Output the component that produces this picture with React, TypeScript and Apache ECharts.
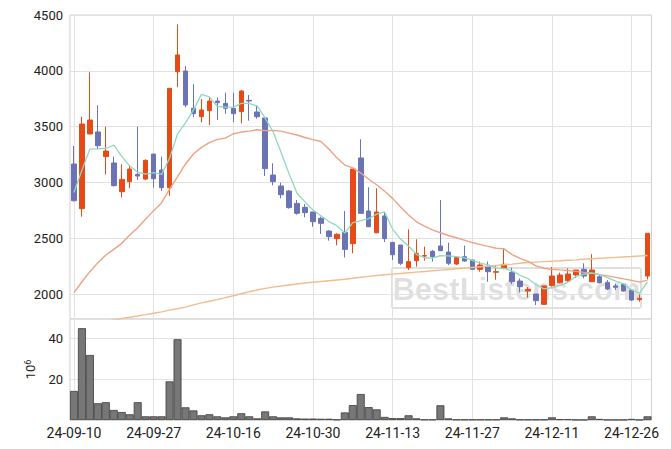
import React, { useEffect, useRef } from 'react';
import * as echarts from 'echarts';

const dates = [
  '24-09-10', '24-09-11', '24-09-12', '24-09-13', '24-09-19', '24-09-20', '24-09-23', '24-09-24', '24-09-25', '24-09-26',
  '24-09-27', '24-09-30', '24-10-02', '24-10-04', '24-10-07', '24-10-08', '24-10-10', '24-10-11', '24-10-14', '24-10-15',
  '24-10-16', '24-10-17', '24-10-18', '24-10-21', '24-10-22', '24-10-23', '24-10-24', '24-10-25', '24-10-28', '24-10-29',
  '24-10-30', '24-10-31', '24-11-01', '24-11-04', '24-11-05', '24-11-06', '24-11-07', '24-11-08', '24-11-11', '24-11-12',
  '24-11-13', '24-11-14', '24-11-15', '24-11-18', '24-11-19', '24-11-20', '24-11-21', '24-11-22', '24-11-25', '24-11-26',
  '24-11-27', '24-11-28', '24-11-29', '24-12-02', '24-12-03', '24-12-04', '24-12-05', '24-12-06', '24-12-09', '24-12-10',
  '24-12-11', '24-12-12', '24-12-13', '24-12-16', '24-12-17', '24-12-18', '24-12-19', '24-12-20', '24-12-23', '24-12-24',
  '24-12-26', '24-12-27', '24-12-30',
];

const opens = [
  3165, 2765, 3434, 3452, 3231, 3174, 2917, 3007, 3072, 3030,
  3254, 3111, 2953, 3992, 3998, 3664, 3589, 3643, 3729, 3708,
  3664, 3634, 3735, 3631, 3577, 3066, 2968, 2923, 2812, 2777,
  2735, 2678, 2564, 2496, 2552, 2451, 3219, 2744, 2549, 2699,
  2463, 2439, 2236, 2299, 2340, 2382, 2430, 2376, 2269, 2334,
  2305, 2221, 2245, 2195, 2230, 2194, 2116, 2027, 2000, 1907,
  2075, 2101, 2119, 2170, 2221, 2110, 2155, 2104, 2072, 2086,
  2036, 1950, 2161,
];

const closes = [
  2836, 3523, 3559, 3329, 3281, 2971, 3027, 3120, 3057, 3198,
  3033, 2953, 3843, 4142, 3694, 3616, 3649, 3729, 3714, 3664,
  3616, 3819, 3729, 3589, 3123, 3007, 2890, 2774, 2723, 2729,
  2648, 2633, 2514, 2535, 2400, 3120, 2723, 2603, 2735, 2496,
  2352, 2275, 2290, 2364, 2344, 2334, 2388, 2275, 2328, 2296,
  2221, 2260, 2200, 2200, 2266, 2110, 2066, 2042, 1940, 2072,
  2161, 2170, 2179, 2215, 2161, 2215, 2101, 2045, 2060, 2027,
  1946, 1961, 2544,
];

const lows = [
  2830, 2693, 3430, 3299, 3072, 2962, 2866, 2947, 3021, 3021,
  2953, 2923, 2881, 3852, 3673, 3583, 3538, 3514, 3559, 3616,
  3541, 3529, 3553, 3571, 3057, 2974, 2857, 2765, 2711, 2687,
  2603, 2538, 2478, 2436, 2328, 2364, 2723, 2600, 2544, 2466,
  2305, 2260, 2215, 2245, 2299, 2290, 2385, 2260, 2260, 2287,
  2215, 2200, 2110, 2128, 2221, 2089, 2015, 1967, 1901, 1907,
  2066, 2095, 2110, 2146, 2140, 2110, 2095, 2036, 2036, 2021,
  1937, 1931, 2131,
];

const highs = [
  3326, 3589, 3986, 3691, 3499, 3231, 3162, 3156, 3499, 3205,
  3254, 3231, 3843, 4416, 4043, 3879, 3747, 3765, 3759, 3804,
  3804, 3828, 3783, 3685, 3590, 3171, 2998, 2932, 2842, 2806,
  2735, 2693, 2573, 2544, 2744, 3120, 3386, 2956, 2947, 2735,
  2463, 2439, 2579, 2490, 2424, 2394, 2842, 2460, 2340, 2433,
  2305, 2290, 2290, 2255, 2409, 2236, 2140, 2062, 2000, 2072,
  2242, 2191, 2230, 2215, 2275, 2357, 2170, 2125, 2092, 2095,
  2042, 1997, 2544,
];

// volume, in units of 10^6
const volumes = [
  14.2, 44.9, 31.8, 8.2, 8.7, 4.9, 3.9, 2.8, 8.7, 1.8,
  1.8, 1.8, 18.9, 39.5, 6.2, 4.7, 2.3, 2.8, 1.8, 1.3,
  1.8, 3.3, 1.8, 0.8, 4.2, 1.8, 1.3, 1.3, 0.8, 0.7,
  0.7, 0.6, 0.6, 0.2, 3.7, 7.3, 12.7, 6.3, 5.2, 1.5,
  0.9, 0.9, 2.3, 0.8, 0.2, 0.2, 7.2, 0.8, 0.2, 0.2,
  0.2, 0.2, 0.2, 0.2, 1.3, 0.8, 0.2, 0.2, 0.2, 0.2,
  1.3, 0.4, 0.4, 0.1, 0.1, 1.8, 0.5, 0.1, 0.1, 0.1,
  0.5, 0.1, 1.8,
];

const ma5 = [
  2910, 3110, 3299, 3300, 3306, 3333, 3233, 3146, 3091, 3075,
  3087, 3072, 3217, 3434, 3533, 3650, 3789, 3766, 3680, 3674,
  3674, 3708, 3708, 3683, 3575, 3453, 3268, 3077, 2903, 2825,
  2753, 2701, 2649, 2612, 2546, 2640, 2658, 2676, 2716, 2735,
  2582, 2492, 2430, 2355, 2325, 2321, 2344, 2341, 2334, 2324,
  2302, 2276, 2261, 2235, 2229, 2207, 2168, 2137, 2085, 2046,
  2056, 2077, 2104, 2159, 2177, 2188, 2174, 2147, 2116, 2090,
  2036, 2008, 2108,
];

const ma20 = [
  2012, 2110, 2200, 2281, 2349, 2400, 2454, 2529, 2594, 2672,
  2747, 2818, 2938, 3051, 3165, 3254, 3314, 3356, 3386, 3397,
  3436, 3451, 3459, 3472, 3464, 3466, 3459, 3442, 3425, 3402,
  3383, 3367, 3300, 3220, 3155, 3130, 3084, 3028, 2979, 2920,
  2857, 2780, 2708, 2647, 2608, 2574, 2549, 2524, 2504, 2483,
  2461, 2443, 2427, 2410, 2404, 2353, 2320, 2292, 2252, 2231,
  2222, 2216, 2211, 2203, 2194, 2188, 2174, 2162, 2149, 2136,
  2122, 2107, 2124,
];

const maLong = [
  1708, 1720, 1732, 1744, 1756, 1768, 1780, 1792, 1803, 1815,
  1827, 1840, 1855, 1868, 1882, 1903, 1920, 1935, 1950, 1968,
  1984, 2002, 2020, 2036, 2050, 2062, 2072, 2081, 2090, 2098,
  2105, 2112, 2119, 2126, 2132, 2141, 2150, 2158, 2166, 2172,
  2178, 2184, 2190, 2196, 2202, 2208, 2214, 2220, 2226, 2232,
  2238, 2244, 2250, 2256, 2262, 2268, 2275, 2282, 2286, 2290,
  2294, 2298, 2302, 2306, 2312, 2316, 2320, 2324, 2328, 2332,
  2336, 2341, 2345,
];

const watermarkText = 'BestListens.com';
const volumeUnitLabel = '{a|10}{b|6}';

const RED = '#e64a19';
const BLUE = '#6b73b5';
const GREEN = '#8fd9bd';
const ORANGE = '#efa283';
const TAN = '#f1bd8f';
const GRIDLINE = '#e2e2e2';
const BORDER = '#cfcfcf';
const TEXT = '#222';
const FONT = 'Roboto';

export default function App() {
  const ref = useRef<HTMLDivElement>(null);

  useEffect(() => {
    if (!ref.current) return;
    const chart = echarts.init(ref.current, null, { renderer: 'svg' });
    const candleData = dates.map((_, i) => [opens[i], closes[i], lows[i], highs[i]]);

    const gridLeft = 70;
    const gridRight = 19.5;
    const plain = (v: number) => String(v);

    chart.setOption({
      animation: false,
      textStyle: { fontFamily: FONT },
      grid: [
        {
          left: gridLeft, right: gridRight, top: 15, height: 304,
          show: true, borderColor: BORDER, borderWidth: 1, containLabel: false,
        },
        {
          left: gridLeft, right: gridRight, top: 319, height: 101,
          show: true, borderColor: BORDER, borderWidth: 1, containLabel: false,
        },
      ],
      xAxis: [
        {
          type: 'category', gridIndex: 0, data: dates, boundaryGap: true,
          axisLabel: { show: false }, axisTick: { show: false }, axisLine: { show: false },
          splitLine: { show: true, interval: 9, alignWithLabel: true, lineStyle: { color: GRIDLINE, width: 1 } },
        },
        {
          type: 'category', gridIndex: 1, data: dates, boundaryGap: true,
          axisLabel: { interval: 9, fontSize: 14, color: TEXT, margin: 6, fontFamily: FONT },
          axisTick: { show: false, interval: 9, alignWithLabel: true },
          axisLine: { show: false },
          splitLine: { show: true, interval: 9, alignWithLabel: true, lineStyle: { color: GRIDLINE, width: 1 } },
        },
      ],
      yAxis: [
        {
          type: 'value', gridIndex: 0, min: 1776, max: 4500, splitNumber: 5, scale: true,
          axisLabel: { showMinLabel: false, fontSize: 13, color: TEXT, margin: 7, fontFamily: FONT, formatter: plain },
          axisTick: { show: false }, axisLine: { show: false },
          splitLine: { show: true, lineStyle: { color: GRIDLINE, width: 1 } },
        },
        {
          type: 'value', gridIndex: 1, min: 0, max: 49.4, interval: 20,
          axisLabel: { showMinLabel: false, showMaxLabel: false, fontSize: 13, color: TEXT, margin: 7, fontFamily: FONT, formatter: plain },
          axisTick: { show: false }, axisLine: { show: false },
          splitLine: { show: true, lineStyle: { color: GRIDLINE, width: 1 } },
          name: volumeUnitLabel,
          nameLocation: 'middle',
          nameRotate: 90,
          nameGap: 30,
          nameTextStyle: {
            color: TEXT,
            fontFamily: FONT,
            rich: {
              a: { fontSize: 13, color: TEXT, fontFamily: FONT },
              b: { fontSize: 9, color: TEXT, fontFamily: FONT, verticalAlign: 'top', padding: [0, 0, 6, 0] },
            },
          },
        },
      ],
      graphic: [
        {
          type: 'rect', z: 0, silent: true,
          shape: { x: 392, y: 268, width: 249, height: 40, r: 2 },
          style: { fill: 'none', stroke: 'rgba(0,0,0,0.12)', lineWidth: 2 },
        },
        {
          type: 'text', z: 0, silent: true, x: 516.5, y: 289,
          style: {
            text: watermarkText, fill: 'rgba(0,0,0,0.12)', font: 'bold 31px "Liberation Sans", Arial, sans-serif',
            align: 'center', verticalAlign: 'middle',
          },
        },
      ],
      series: [
        {
          type: 'candlestick', xAxisIndex: 0, yAxisIndex: 0, data: candleData, barWidth: 5,
          itemStyle: { color: RED, color0: BLUE, borderColor: RED, borderColor0: BLUE, borderWidth: 1 },
          silent: true, z: 3,
        },
        {
          type: 'line', xAxisIndex: 0, yAxisIndex: 0, data: maLong, showSymbol: false, symbol: 'none',
          lineStyle: { color: TAN, width: 1.4 }, silent: true, z: 4, clip: true,
        },
        {
          type: 'line', xAxisIndex: 0, yAxisIndex: 0, data: ma20, showSymbol: false, symbol: 'none',
          lineStyle: { color: ORANGE, width: 1.4 }, silent: true, z: 4, clip: true,
        },
        {
          type: 'line', xAxisIndex: 0, yAxisIndex: 0, data: ma5, showSymbol: false, symbol: 'none',
          lineStyle: { color: GREEN, width: 1.3 }, silent: true, z: 5, clip: true,
        },
        {
          type: 'bar', xAxisIndex: 1, yAxisIndex: 1, data: volumes, barWidth: '100%',
          itemStyle: { color: '#777', borderColor: '#3c3c3c', borderWidth: 0.8 },
          silent: true,
        },
      ],
    });

    return () => chart.dispose();
  }, []);

  return (
    <div
      ref={ref}
      style={{ position: 'absolute', left: 0, top: 0, width: 671, height: 449, background: '#fff' }}
    />
  );
}
